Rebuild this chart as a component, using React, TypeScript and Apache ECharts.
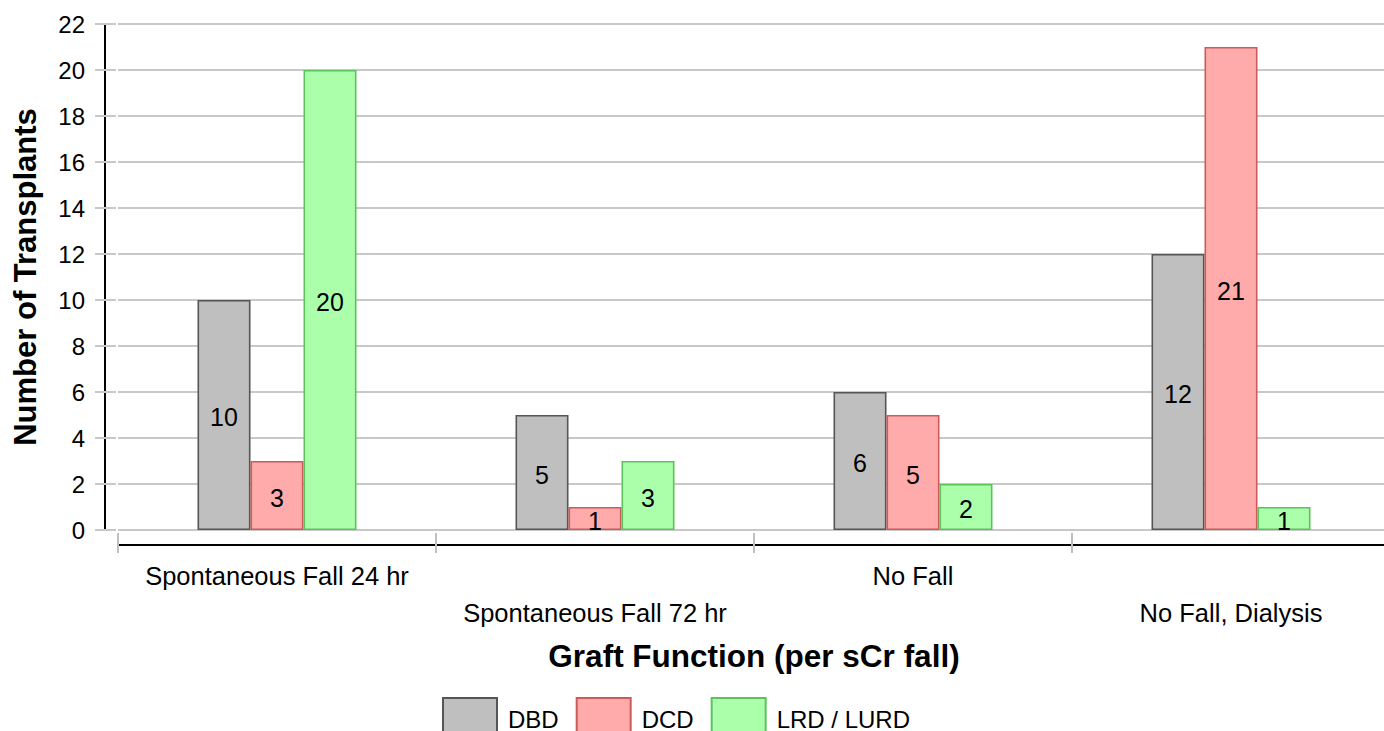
import React, { useEffect, useRef } from "react";
import * as echarts from "echarts";

const categories = [
  "Spontaneous Fall 24 hr",
  "Spontaneous Fall 72 hr",
  "No Fall",
  "No Fall, Dialysis",
];
const dbd = [10, 5, 6, 12];
const dcd = [3, 1, 5, 21];
const lrd = [20, 3, 2, 1];
const seriesNames = ["DBD", "DCD", "LRD / LURD"];

const FONT = "'Liberation Sans', Arial, Helvetica, sans-serif";

export default function App() {
  const ref = useRef<HTMLDivElement>(null);
  useEffect(() => {
    if (!ref.current) return;
    const chart = echarts.init(ref.current, null, { renderer: "svg" });
    const mkSeries = (name: string, data: number[], fill: string, border: string) => ({
      name,
      type: "bar",
      xAxisIndex: 0,
      yAxisIndex: 0,
      data,
      barWidth: 53,
      barGap: "0%",
      itemStyle: { color: fill, borderColor: border, borderWidth: 1.6 },
      label: {
        show: true,
        position: "inside",
        offset: [0, 2],
        color: "#000",
        fontSize: 25,
        fontFamily: FONT,
      },
    });
    chart.setOption({
      animation: false,
      textStyle: { fontFamily: FONT },
      grid: {
        left: 118,
        width: 1272,
        top: 24,
        bottom: 201,
        containLabel: false,
        outerBoundsMode: "none",
      },
      legend: {
        data: seriesNames,
        left: 442,
        top: 697,
        padding: 0,
        itemWidth: 54,
        itemHeight: 42,
        itemGap: 17,
        icon: "rect",
        textStyle: { fontSize: 24, color: "#000", fontFamily: FONT, padding: [0, 0, 0, 6] },
      },
      xAxis: [
        {
          type: "category",
          data: categories,
          position: "bottom",
          offset: 15,
          axisLine: { show: true, onZero: false, lineStyle: { color: "#000", width: 2 } },
          axisTick: { show: true, length: 8, lineStyle: { color: "#c0c0c0", width: 2 } },
          axisLabel: {
            color: "#000",
            fontSize: 25.5,
            fontFamily: FONT,
            margin: 12,
            lineHeight: 37,
            interval: 0,
            formatter: (v: string, i: number) => (i % 2 === 1 ? "\n" + v : v),
          },
          splitLine: { show: false },
          name: "Graft Function (per sCr fall)",
          nameLocation: "middle",
          nameGap: 95,
          nameTextStyle: { fontSize: 31.5, fontWeight: "bold", color: "#000", fontFamily: FONT },
        },
        {
          type: "category",
          data: categories,
          position: "bottom",
          offset: 15,
          axisLine: { show: false, onZero: false },
          axisTick: { show: true, inside: true, length: 12, lineStyle: { color: "#c0c0c0", width: 2 } },
          axisLabel: { show: false },
          splitLine: { show: false },
        },
      ],
      yAxis: [
        {
          type: "value",
          min: 0,
          max: 22,
          interval: 2,
          position: "left",
          offset: 13,
          axisLine: { show: true, lineStyle: { color: "#000", width: 2 } },
          axisTick: { show: true, length: 10, lineStyle: { color: "#c8c8c8", width: 2 } },
          axisLabel: { color: "#000", fontSize: 24, fontFamily: FONT, margin: 20 },
          splitLine: { show: true, lineStyle: { color: "#c8c8c8", width: 2 } },
          name: "Number of Transplants",
          nameLocation: "middle",
          nameGap: 64,
          nameTextStyle: { fontSize: 31, fontWeight: "bold", color: "#000", fontFamily: FONT },
        },
        {
          type: "value",
          min: 0,
          max: 22,
          interval: 2,
          position: "left",
          offset: 13,
          axisLine: { show: false },
          axisTick: { show: true, inside: true, length: 11, lineStyle: { color: "#c8c8c8", width: 2 } },
          axisLabel: { show: false },
          splitLine: { show: false },
        },
      ],
      series: [
        mkSeries(seriesNames[0], dbd, "#bfbfbf", "#555555"),
        mkSeries(seriesNames[1], dcd, "#ffabab", "#cc5a5a"),
        mkSeries(seriesNames[2], lrd, "#abffab", "#5cc25c"),
      ],
    });
    return () => chart.dispose();
  }, []);
  return (
    <div
      ref={ref}
      style={{ position: "fixed", left: 0, top: 0, width: 1384, height: 731, background: "#fff" }}
    />
  );
}
